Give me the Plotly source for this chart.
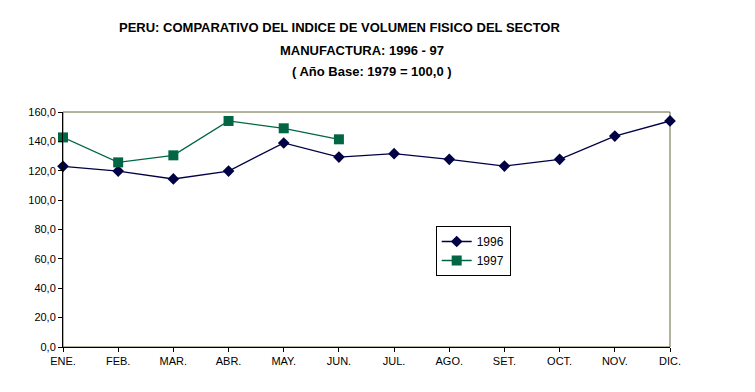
import plotly.graph_objects as go

months = ["ENE.", "FEB.", "MAR.", "ABR.", "MAY.", "JUN.", "JUL.", "AGO.", "SET.", "OCT.", "NOV.", "DIC."]
vals_1996 = [123.0, 119.8, 114.4, 119.8, 138.9, 129.3, 131.6, 127.8, 123.2, 127.8, 143.6, 153.9]
vals_1997 = [142.7, 125.7, 130.5, 153.9, 148.9, 141.4]
yticks = [0, 20, 40, 60, 80, 100, 120, 140, 160]
ytick_labels = ["0,0", "20,0", "40,0", "60,0", "80,0", "100,0", "120,0", "140,0", "160,0"]

x96 = list(range(len(vals_1996)))
x97 = list(range(len(vals_1997)))

fig = go.Figure()
fig.add_trace(go.Scatter(x=x96, y=vals_1996, name="1996", mode="lines+markers",
                         line=dict(color="#000044", width=1.3),
                         marker=dict(symbol="diamond", size=9, color="#000044"),
                         cliponaxis=False))
fig.add_trace(go.Scatter(x=x97, y=vals_1997, name="1997", mode="lines+markers",
                         line=dict(color="#006644", width=1.3),
                         marker=dict(symbol="square", size=10, color="#006644"),
                         cliponaxis=False))

font = "Liberation Sans, Arial, sans-serif"
fig.update_layout(
    width=755, height=392,
    margin=dict(l=55, r=93, t=104, b=53),
    paper_bgcolor="white", plot_bgcolor="white",
    font=dict(family=font, size=11, color="black"),
    showlegend=True,
    legend=dict(x=0.614, y=0.515, xanchor="left", yanchor="top",
                bordercolor="black", borderwidth=1, bgcolor="white",
                font=dict(size=12, family=font), tracegroupgap=0,
                itemwidth=30),
    xaxis=dict(range=[0, 11], tickmode="array", tickvals=list(range(12)), ticktext=months,
               showgrid=False, zeroline=False, showline=True, linecolor="black", linewidth=1,
               ticks="outside", ticklen=4, tickcolor="black"),
    yaxis=dict(range=[0, 160], tickmode="array", tickvals=yticks, ticktext=ytick_labels,
               showgrid=False, zeroline=False, showline=True, linecolor="black", linewidth=1,
               ticks="outside", ticklen=4, tickcolor="black"),
    shapes=[dict(type="rect", xref="paper", yref="paper", x0=0, y0=0, x1=1, y1=1,
                 line=dict(color="#66663f", width=1), layer="below")],
    annotations=[
        dict(text="<b>PERU: COMPARATIVO DEL INDICE DE VOLUMEN FISICO DEL SECTOR</b>",
             xref="paper", yref="paper", x=(339 - 63) / 607, y=(347 - 28) / 235,
             xanchor="center", yanchor="middle", showarrow=False, font=dict(size=13, family=font)),
        dict(text="<b>MANUFACTURA: 1996 - 97</b>",
             xref="paper", yref="paper", x=(362 - 63) / 607, y=(347 - 50) / 235,
             xanchor="center", yanchor="middle", showarrow=False, font=dict(size=13, family=font)),
        dict(text="<b>( Año Base: 1979 = 100,0 )</b>",
             xref="paper", yref="paper", x=(372 - 63) / 607, y=(347 - 72) / 235,
             xanchor="center", yanchor="middle", showarrow=False, font=dict(size=13, family=font)),
    ],
)

fig.write_html("out.html")
